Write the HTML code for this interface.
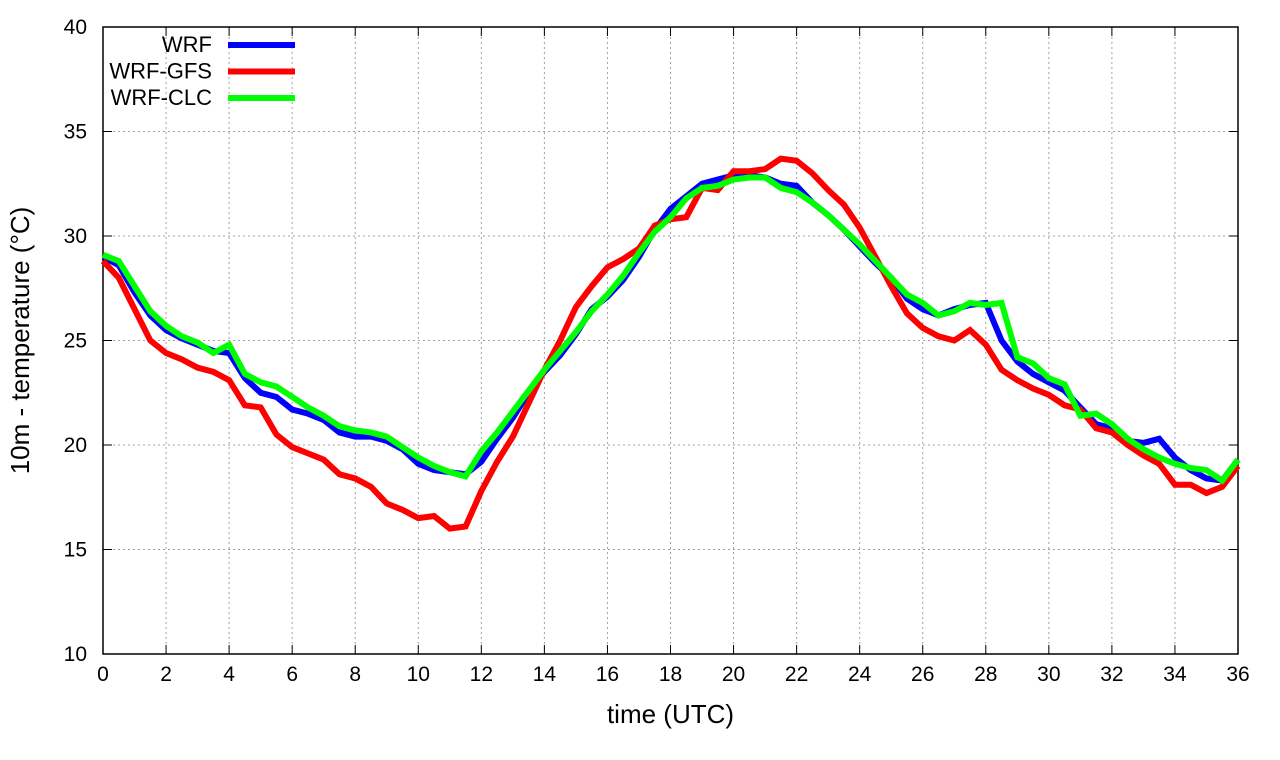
<!DOCTYPE html>
<html><head><meta charset="utf-8"><style>body{margin:0;background:#fff}svg{display:block;font-family:"Liberation Sans",sans-serif}</style></head>
<body>
<svg id="chart" width="1280" height="760"></svg>
<script>
const hours=[];for(let i=0;i<=72;i++)hours.push(i*0.5);
const wrf=[29.0,28.6,27.3,26.2,25.5,25.1,24.8,24.5,24.4,23.2,22.5,22.3,21.7,21.5,21.2,20.6,20.4,20.4,20.2,19.8,19.1,18.8,18.7,18.6,19.2,20.3,21.3,22.5,23.5,24.3,25.3,26.5,27.1,27.9,29.0,30.3,31.3,31.9,32.5,32.7,32.9,32.9,32.8,32.5,32.4,31.6,31.0,30.3,29.5,28.7,28.0,27.0,26.5,26.2,26.5,26.7,26.8,25.0,24.0,23.4,23.0,22.6,21.8,21.0,20.8,20.2,20.1,20.3,19.4,18.8,18.4,18.3,19.3];
const wrfGfs=[28.8,28.0,26.5,25.0,24.4,24.1,23.7,23.5,23.1,21.9,21.8,20.5,19.9,19.6,19.3,18.6,18.4,18.0,17.2,16.9,16.5,16.6,16.0,16.1,17.8,19.2,20.4,22.0,23.6,25.0,26.6,27.6,28.5,28.9,29.4,30.5,30.8,30.9,32.3,32.2,33.1,33.1,33.2,33.7,33.6,33.0,32.2,31.5,30.4,29.0,27.6,26.3,25.6,25.2,25.0,25.5,24.8,23.6,23.1,22.7,22.4,21.9,21.7,20.8,20.6,20.0,19.5,19.1,18.1,18.1,17.7,18.0,19.0];
const wrfClc=[29.1,28.8,27.6,26.4,25.7,25.2,24.9,24.4,24.8,23.4,23.0,22.8,22.3,21.8,21.4,20.9,20.7,20.6,20.4,19.9,19.4,19.0,18.7,18.5,19.7,20.6,21.6,22.6,23.6,24.5,25.4,26.4,27.2,28.1,29.2,30.2,30.9,31.8,32.3,32.4,32.7,32.8,32.8,32.3,32.1,31.6,31.0,30.3,29.6,28.8,28.0,27.2,26.8,26.2,26.4,26.8,26.7,26.8,24.2,23.9,23.2,22.9,21.4,21.5,21.0,20.3,19.8,19.4,19.1,18.9,18.8,18.3,19.3];
const xTicks=[0,2,4,6,8,10,12,14,16,18,20,22,24,26,28,30,32,34,36];
const yTicks=[10,15,20,25,30,35,40];
const L=103,R=1238,T=27,B=654;
const X=v=>L+(v/36)*(R-L), Y=v=>B-(v-10)/30*(B-T);
const svg=document.getElementById('chart');const NS='http://www.w3.org/2000/svg';
function mk(t,a,p){const e=document.createElementNS(NS,t);for(const k in a)e.setAttribute(k,a[k]);(p||svg).appendChild(e);return e;}
const grid=mk('g',{});


xTicks.forEach(t=>{
 if(t>0&&t<36)mk('line',{x1:X(t),x2:X(t),y1:T,y2:B,stroke:'#a0a0a0','stroke-dasharray':'2,3'},grid);
 mk('line',{x1:X(t),x2:X(t),y1:B,y2:B-9,stroke:'#000'},grid);mk('line',{x1:X(t),x2:X(t),y1:T,y2:T+9,stroke:'#000'},grid);
 const tx=mk('text',{x:X(t),y:B+27,'text-anchor':'middle','font-size':21});tx.textContent=t;
 
 
});
yTicks.forEach(t=>{
 if(t>10&&t<40)mk('line',{x1:L,x2:R,y1:Y(t),y2:Y(t),stroke:'#a0a0a0','stroke-dasharray':'2,3'},grid);
 mk('line',{x1:L,x2:L+9,y1:Y(t),y2:Y(t),stroke:'#000'},grid);mk('line',{x1:R,x2:R-9,y1:Y(t),y2:Y(t),stroke:'#000'},grid);
 const tx=mk('text',{x:L-16,y:Y(t)+7,'text-anchor':'end','font-size':21});tx.textContent=t;
 
 
});
const frame=mk('rect',{x:L,y:T,width:R-L,height:B-T,fill:'none',stroke:'#000','stroke-width':1.5});


const series=[[wrf,'#0000ff','WRF','wrf-line'],[wrfGfs,'#ff0000','WRF-GFS','wrf-gfs-line'],[wrfClc,'#00ff00','WRF-CLC','wrf-clc-line']];
series.forEach((s,i)=>{
 const p=mk('polyline',{points:s[0].map((v,j)=>X(hours[j])+','+Y(v)).join(' '),fill:'none',stroke:s[1],'stroke-width':6,'stroke-linejoin':'miter'});
 
 
 const ly=45+i*26.5;
 const lt=mk('text',{x:212,y:ly+7,'text-anchor':'end','font-size':22});lt.textContent=s[2];
 
 
 const ll=mk('line',{x1:228,x2:295,y1:ly,y2:ly,stroke:s[1],'stroke-width':6});
 
 
});
const xt=mk('text',{x:(L+R)/2,y:723,'text-anchor':'middle','font-size':26});xt.textContent='time (UTC)';


const yt=mk('text',{x:0,y:0,'text-anchor':'middle','font-size':26,transform:'translate(29,'+((T+B)/2)+') rotate(-90)'});yt.textContent='10m - temperature (°C)';


</script>
</body></html>
